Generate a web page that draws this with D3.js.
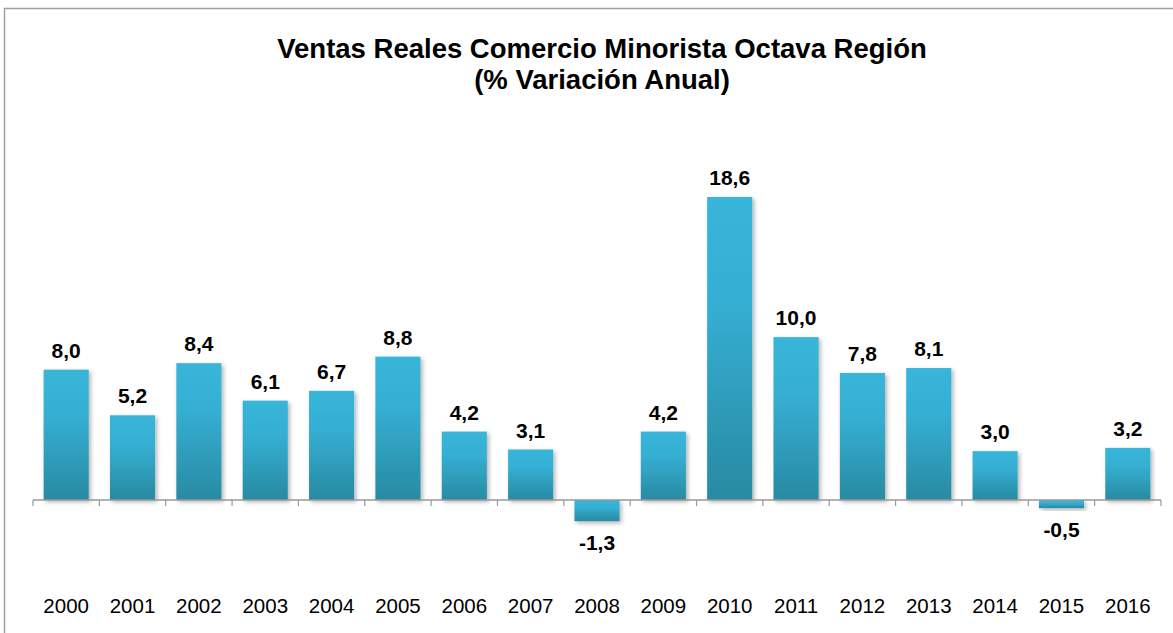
<!DOCTYPE html>
<html><head><meta charset="utf-8">
<script src="https://cdn.jsdelivr.net/npm/d3@7/dist/d3.min.js"></script>
<style>body{margin:0;background:#fff}svg{display:block}</style>
</head><body>
<script>
const years = ["2000","2001","2002","2003","2004","2005","2006","2007","2008","2009","2010","2011","2012","2013","2014","2015","2016"];
const values = [8.0,5.2,8.4,6.1,6.7,8.8,4.2,3.1,-1.3,4.2,18.6,10.0,7.8,8.1,3.0,-0.5,3.2];
const titleLines = ["Ventas Reales Comercio Minorista Octava Región","(% Variación Anual)"];

const W = 1173, H = 633;
const svg = d3.select("body").append("svg").attr("width", W).attr("height", H);
const defs = svg.append("defs");
const grad = defs.append("linearGradient").attr("id","barGrad").attr("x1",0).attr("y1",0).attr("x2",0).attr("y2",1);
grad.append("stop").attr("offset","0%").attr("stop-color","#38b5da");
grad.append("stop").attr("offset","35%").attr("stop-color","#35afd3");
grad.append("stop").attr("offset","100%").attr("stop-color","#288aa2");
const f = defs.append("filter").attr("id","shadow").attr("x","-20%").attr("y","-20%").attr("width","150%").attr("height","150%");
f.append("feDropShadow").attr("dx",2).attr("dy",2).attr("stdDeviation",2).attr("flood-color","#000").attr("flood-opacity",0.3);

// chart border
svg.append("rect").attr("x",4.5).attr("y",8.5).attr("width",W+10).attr("height",H+10)
  .attr("fill","none").attr("stroke","#a0a0a0").attr("stroke-width",1.5);

const x = d3.scaleBand().domain(years).range([33,1161]).paddingInner(0.32).paddingOuter(0.16);
const y = d3.scaleLinear().domain([0,18.6]).range([500,197]);

const t = svg.append("text").attr("x",602).attr("text-anchor","middle")
  .attr("font-family","Liberation Sans, Arial, sans-serif").attr("font-weight","bold").attr("font-size",27.5).attr("fill","#000");
t.selectAll("tspan").data(titleLines).enter().append("tspan")
  .attr("x",602).attr("y",(d,i)=>58+i*31).text(d=>d);

svg.append("g").selectAll("rect").data(values).enter().append("rect")
  .attr("x",(d,i)=>x(years[i]))
  .attr("width",x.bandwidth())
  .attr("y",d=>y(Math.max(0,d)))
  .attr("height",d=>Math.abs(y(d)-y(0)))
  .attr("fill","url(#barGrad)")
  .attr("filter","url(#shadow)");

// axis
const axis = d3.axisBottom(x).tickSize(0).tickFormat("");
const ag = svg.append("g").attr("transform",`translate(0,${y(0)})`).call(axis);
ag.select(".domain").attr("stroke","#999").attr("stroke-width",1.5).attr("d","M33,0H1161");
const bounds = d3.range(years.length+1).map(i=>33+i*(1128/years.length));
ag.selectAll("line.b").data(bounds).enter().append("line").attr("class","b")
  .attr("x1",d=>d).attr("x2",d=>d).attr("y1",0).attr("y2",6).attr("stroke","#999").attr("stroke-width",1.2);

// value labels
svg.append("g").selectAll("text").data(values).enter().append("text")
  .attr("x",(d,i)=>x(years[i])+x.bandwidth()/2)
  .attr("y",d=>d>=0 ? y(d)-12 : y(d)+29)
  .attr("text-anchor","middle")
  .attr("font-family","Liberation Sans, Arial, sans-serif").attr("font-weight","bold").attr("font-size",21)
  .attr("fill","#000")
  .text(d=>d.toFixed(1).replace(".",","));

// year labels
svg.append("g").selectAll("text").data(years).enter().append("text")
  .attr("x",d=>x(d)+x.bandwidth()/2)
  .attr("y",613)
  .attr("text-anchor","middle")
  .attr("font-family","Liberation Sans, Arial, sans-serif").attr("font-size",20.5)
  .attr("fill","#000")
  .text(d=>d);
</script>
</body></html>
